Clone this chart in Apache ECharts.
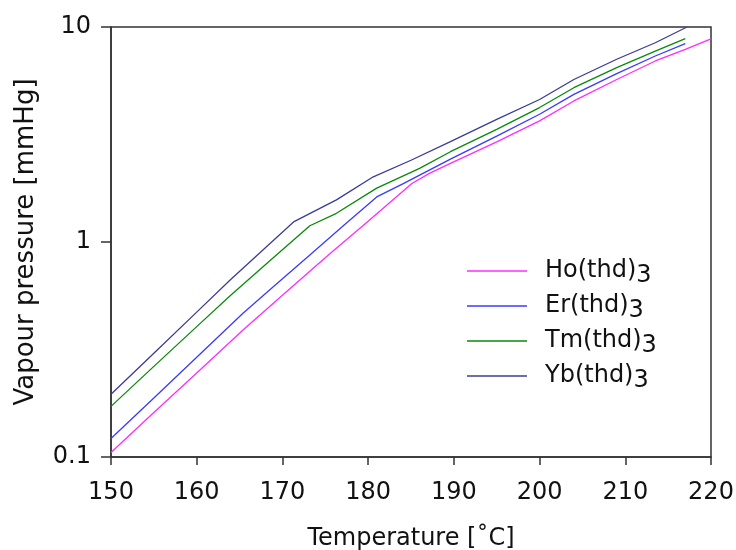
<!DOCTYPE html>
<html>
<head>
<meta charset="utf-8">
<script src="https://cdn.jsdelivr.net/npm/echarts@6/dist/echarts.min.js"></script>
<style>
  html, body { margin: 0; padding: 0; background: #fff; }
  #chart { width: 736px; height: 550px; }
</style>
</head>
<body>
<div id="chart"></div>
<script>
// Vapour pressure curves of lanthanide thd complexes
const xTicks = [150, 160, 170, 180, 190, 200, 210, 220];
const yTicks = [0.1, 1, 10];

const hoTemp  = [150, 155, 160, 165.4, 170, 175.5, 180, 185.1, 187.2, 189.6, 195, 200, 204, 209, 213.5, 217, 220];
const hoPress = [0.105, 0.161, 0.246, 0.39, 0.565, 0.88, 1.25, 1.87, 2.09, 2.32, 2.92, 3.66, 4.53, 5.70, 6.95, 7.87, 8.8];

const erTemp  = [150, 155, 160, 165.4, 169, 173.2, 177, 181, 184.1, 189.6, 195, 200, 204, 209, 213.5, 217];
const erPress = [0.122, 0.188, 0.291, 0.466, 0.622, 0.87, 1.18, 1.62, 1.87, 2.43, 3.11, 3.93, 4.86, 6.07, 7.33, 8.36];

const tmTemp  = [150, 155, 160, 163.9, 168.5, 173.2, 176.3, 181, 186, 189.6, 195, 200, 204, 209, 213.5, 217];
const tmPress = [0.172, 0.264, 0.404, 0.562, 0.815, 1.19, 1.36, 1.78, 2.2, 2.63, 3.34, 4.22, 5.22, 6.47, 7.73, 8.83];

const ybTemp  = [150, 155, 160, 163.9, 167.5, 171.3, 176.3, 180.6, 185, 189.6, 195, 200, 204, 209, 213.5, 217.2];
const ybPress = [0.196, 0.304, 0.472, 0.665, 0.90, 1.24, 1.57, 2.01, 2.40, 2.93, 3.72, 4.6, 5.7, 7.08, 8.45, 10];

const seriesNames  = ['Ho(thd)3', 'Er(thd)3', 'Tm(thd)3', 'Yb(thd)3'];
const seriesColors = ['#ff2bff', '#3a3aff', '#0a8a0a', '#3c3c96'];

function pairs(t, p) { return t.map((v, i) => [v, p[i]]); }
const dataSets = [pairs(hoTemp, hoPress), pairs(erTemp, erPress), pairs(tmTemp, tmPress), pairs(ybTemp, ybPress)];

const FONT = 'DejaVu Sans';
const chart = echarts.init(document.getElementById('chart'), null, { renderer: 'canvas' });

chart.setOption({
  backgroundColor: '#fff',
  animation: false,
  grid: {
    left: 111, right: 25, top: 27, bottom: 93,
    containLabel: false, outerBoundsMode: 'none',
    show: true, borderColor: '#333', borderWidth: 1.5, backgroundColor: 'transparent'
  },
  legend: {
    orient: 'vertical',
    left: 462, top: 251,
    icon: 'rect',
    itemWidth: 60, itemHeight: 1.6,
    itemGap: 3,
    data: seriesNames,
    formatter: name => name.replace(/3$/, '{s|3}'),
    textStyle: {
      fontFamily: FONT, fontSize: 24, color: '#111',
      padding: [0, 0, 0, 13], lineHeight: 30,
      rich: { s: { fontFamily: FONT, fontSize: 24, color: '#111', padding: [10, 0, 0, 0] } }
    }
  },
  xAxis: {
    type: 'value',
    min: 150, max: 220, interval: 10,
    name: 'Temperature [˚C]',
    nameLocation: 'middle', nameGap: 70,
    nameTextStyle: { fontFamily: FONT, fontSize: 24, color: '#111' },
    axisLine: { lineStyle: { color: '#333', width: 1.5 } },
    axisTick: { show: true, inside: false, length: 8, lineStyle: { color: '#333', width: 1.5 } },
    axisLabel: {
      margin: 24, fontFamily: FONT, fontSize: 24, color: '#111',
      formatter: v => xTicks.includes(v) ? String(v) : ''
    },
    splitLine: { show: false }
  },
  yAxis: {
    type: 'log', logBase: 10,
    min: yTicks[0], max: yTicks[yTicks.length - 1],
    name: 'Vapour pressure [mmHg]',
    nameLocation: 'middle', nameGap: 72,
    nameTextStyle: { fontFamily: FONT, fontSize: 26, color: '#111' },
    axisLine: { show: true, lineStyle: { color: '#333', width: 1.5 } },
    axisTick: { show: true, inside: false, length: 10, lineStyle: { color: '#333', width: 1.5 } },
    minorTick: { show: false },
    axisLabel: {
      margin: 20, fontFamily: FONT, fontSize: 24, color: '#111',
      formatter: v => {
        const r = Math.round(v * 1000) / 1000;
        return yTicks.includes(r) ? String(r) : '';
      }
    },
    splitLine: { show: false }
  },
  series: seriesNames.map((n, i) => ({
    name: n,
    type: 'line',
    data: dataSets[i],
    showSymbol: false,
    symbol: 'none',
    color: seriesColors[i],
    lineStyle: { color: seriesColors[i], width: 1.3 },
    clip: true
  }))
});
</script>
</body>
</html>
